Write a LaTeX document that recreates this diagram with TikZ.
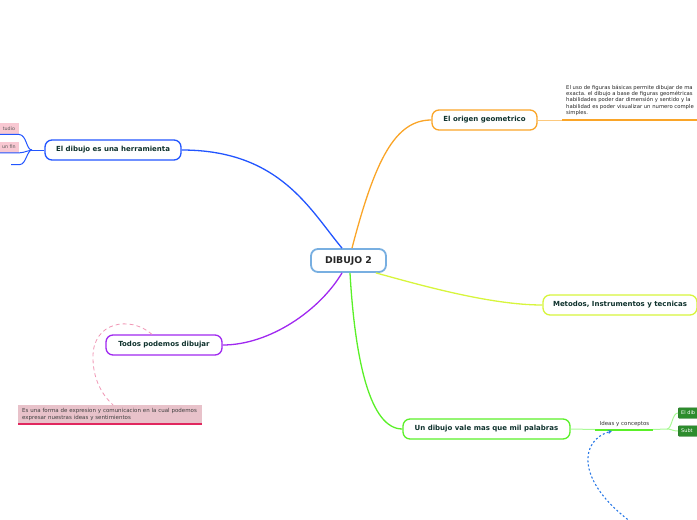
\documentclass[tikz,border=0pt]{standalone}
\usepackage{fontspec}
\setmainfont{DejaVu Sans}
\usetikzlibrary{arrows.meta}
\definecolor{cblueb}{RGB}{34,85,255}
\definecolor{corange}{RGB}{250,165,40}
\definecolor{cyellow}{RGB}{215,245,60}
\definecolor{cgreen}{RGB}{90,240,40}
\definecolor{cgreenl}{RGB}{170,250,150}
\definecolor{cpurple}{RGB}{160,40,240}
\definecolor{cring}{RGB}{120,175,225}
\definecolor{txtc}{RGB}{15,50,45}
\definecolor{pinkbox}{RGB}{232,194,202}
\definecolor{pinkline}{RGB}{225,40,95}
\definecolor{pinkdash}{RGB}{240,150,180}
\definecolor{lpink}{RGB}{248,200,210}
\definecolor{gboxc}{RGB}{45,140,45}
\definecolor{cdot}{RGB}{40,120,230}
\begin{document}
\begin{tikzpicture}[x=1pt,y=-1pt,
  topic/.style={draw, rounded corners=7pt, line width=1.3pt, fill=white,
    minimum height=20pt, inner sep=0pt, text=txtc,
    font=\bfseries\fontsize{7}{8}\selectfont},
  conn/.style={line width=1.3pt},
  small/.style={inner sep=0pt, align=left, text=black!85,
    font=\fontsize{5.3}{6.2}\selectfont},
  lbox/.style={fill=lpink, inner sep=0pt, minimum height=11pt, minimum width=19pt,
    text=black!65, font=\fontsize{4.8}{5}\selectfont, align=right},
  gbox/.style={fill=gboxc, draw=gboxc!80!black, rounded corners=1pt, inner sep=0pt,
    minimum height=10.5pt, minimum width=40pt, text width=34pt, text=white,
    font=\fontsize{5}{5.5}\selectfont, align=left}
]
\useasboundingbox (0,0) rectangle (697,520);
\clip (0,0) rectangle (697,520);

% main nodes
\node[topic, draw=cring, line width=1.8pt, minimum width=75pt, minimum height=23pt,
  text=black!85, font=\bfseries\fontsize{9.3}{10}\selectfont] (c) at (348.5,260.5) {DIBUJO 2};
\node[topic, draw=corange, minimum width=105pt] (o) at (484.5,120) {El origen geometrico};
\node[topic, draw=cyellow, minimum width=154pt] (m) at (620,305) {Metodos, Instrumentos y tecnicas};
\node[topic, draw=cgreen, minimum width=167pt] (u) at (486.5,429) {Un dibujo vale mas que mil palabras};
\node[topic, draw=cblueb, minimum width=136pt] (h) at (113,150) {El dibujo es una herramienta};
\node[topic, draw=cpurple, minimum width=116pt] (t) at (164,345) {Todos podemos dibujar};

% main connectors
\draw[conn, draw=cblueb] ([xshift=-6.5pt]c.north) .. controls (310,210) and (280,150) .. (h.east);
\draw[conn, draw=corange] ([xshift=3.5pt]c.north) .. controls (375,160) and (395,120) .. (o.west);
\draw[conn, draw=cyellow] ([xshift=-11pt]c.south east) .. controls (420,285) and (490,305) .. (m.west);
\draw[conn, draw=cgreen] ([xshift=1.5pt]c.south) .. controls (355,360) and (370,429) .. (u.west);
\draw[conn, draw=cpurple] ([xshift=-6.5pt]c.south) .. controls (320,310) and (270,345) .. (t.east);

% orange branch
\coordinate (ou1) at (562,120);
\coordinate (ou2) at (697,120);
\draw[draw=corange!60, line width=0.8pt] (o.east) -- (ou1);
\fill[corange] (562,119.2) rectangle (697,120.8);
\node[small, anchor=north west] (otext) at (566,85) {El uso de figuras básicas permite dibujar de ma\\exacta. el dibujo a base de figuras geométricas\\habilidades poder dar dimensión y sentido y la\\habilidad es poder visualizar un numero comple\\simples.};

% green branch
\coordinate (gu1) at (595,429.5);
\coordinate (gu2) at (653,429.5);
\coordinate (gj) at (667,429);
\draw[draw=cgreenl, line width=1pt] (u.east) -- (gu1);
\fill[cgreen] (595,428.7) rectangle (653,430.5);
\draw[draw=cgreenl, line width=1pt] (gu2) -- (gj);
\node[gbox, anchor=west] (g1) at (678,413) {El dib};
\node[gbox, anchor=west] (g2) at (678,431) {Subt};
\draw[draw=cgreenl, line width=1pt] (gj) .. controls (672,429) and (672,413) .. (g1.west);
\draw[draw=cgreenl, line width=1pt] (gj) .. controls (672,429) and (672,431) .. (g2.west);
\node[inner sep=0pt, anchor=south, text=black!80, font=\fontsize{5.5}{6}\selectfont] (idea) at (624.5,426.5) {Ideas y conceptos};

% blue dotted arrow
\coordinate (bds) at (631,522);
\coordinate (bde) at (612,431);
\draw[draw=cdot, line width=1.1pt, dash pattern=on 2pt off 2.2pt, -{Stealth[length=4pt,width=4pt,fill=cdot]}]
  (bds) .. controls (575,480) and (580,440) .. (bde);

% left blue branches
\coordinate (hj) at (32,150);
\node[lbox, anchor=north east] (lb1) at (19,123) {tudio\,};
\node[lbox, anchor=north east] (lb2) at (19,141.5) {un fin\,};
\coordinate (l3a) at (11,164.5);
\coordinate (l3b) at (20,164.5);
\draw[draw=cblueb, line width=1pt] (h.west) -- (hj);
\draw[draw=cblueb, line width=1pt] (lb1.south west) -- (lb1.south east) .. controls (27,135) and (26,150) .. (hj);
\draw[draw=cblueb, line width=1pt] (lb2.south west) -- (lb2.south east) .. controls (26,152.5) and (28,150) .. (hj);
\draw[draw=cblueb, line width=1pt] (l3a) -- (l3b) .. controls (26,164.5) and (27,150) .. (hj);

% pink note
\fill[pinkbox] (18,405) rectangle (202,423);
\fill[pinkline] (18,423) rectangle (202,424.5);
\node[anchor=north west, inner xsep=4pt, inner ysep=2.5pt, text width=176pt,
  minimum height=18pt, align=left, text=black!75, font=\fontsize{5.5}{7}\selectfont]
  (pk) at (18,405) {Es una forma de expresion y comunicacion en la cual podemos\\expresar nuestras ideas y sentimientos};
\draw[draw=pinkdash, line width=0.8pt, dash pattern=on 4pt off 3pt]
  ([xshift=-12pt]t.north) .. controls (130,315) and (92,322) .. (93,358)
  .. controls (93,382) and (105,398) .. ([xshift=3pt]pk.north);
\end{tikzpicture}
\end{document}
